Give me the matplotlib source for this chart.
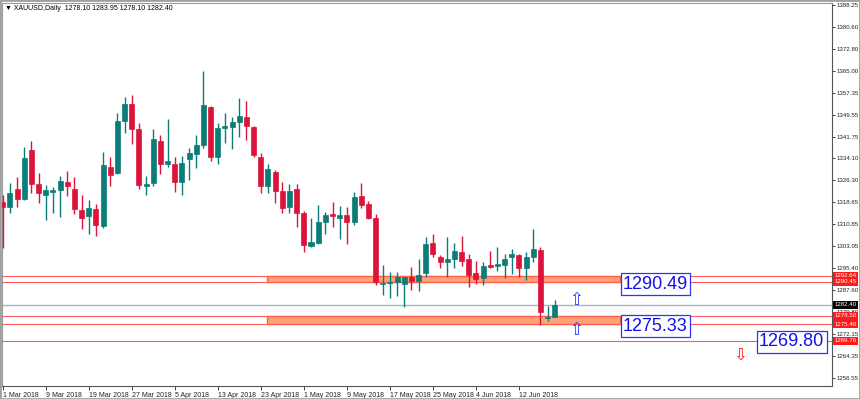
import matplotlib
matplotlib.use('Agg')
import matplotlib.pyplot as plt
import matplotlib.transforms as mtransforms
from matplotlib.patches import Rectangle

plt.rcParams['font.family'] = ['Liberation Sans', 'DejaVu Sans']

# daily XAUUSD candles, 1 Mar 2018 .. 19 Jun 2018
opens = [1318.80, 1317.03, 1323.28, 1319.75, 1337.05, 1325.05, 1321.27, 1322.33, 1323.04, 1325.65,
         1323.28, 1315.87, 1313.86, 1316.22, 1310.33, 1331.05, 1328.83, 1347.40, 1353.30, 1344.47,
         1324.45, 1325.51, 1340.23, 1332.11, 1332.11, 1325.65, 1333.77, 1335.75, 1338.82, 1352.34,
         1334.69, 1344.72, 1345.18, 1347.05, 1348.60, 1345.28, 1334.41, 1324.34, 1329.39, 1322.69,
         1316.82, 1323.18, 1314.70, 1303.26, 1304.11, 1311.74, 1314.46, 1313.04, 1314.00, 1311.74,
         1320.81, 1317.99, 1312.94, 1289.74, 1289.99, 1290.34, 1289.74, 1292.32, 1290.80, 1293.73,
         1304.11, 1299.38, 1297.40, 1298.57, 1301.14, 1298.57, 1293.52, 1291.96, 1296.34, 1296.20,
         1296.45, 1299.38, 1299.98, 1295.49, 1299.27, 1301.74, 1277.63, 1278.10]
highs = [1321.17, 1325.30, 1327.42, 1338.22, 1340.23, 1328.83, 1324.70, 1323.88, 1327.87, 1329.64,
         1327.63, 1321.17, 1319.40, 1317.99, 1336.45, 1334.69, 1350.01, 1355.77, 1356.48, 1346.48,
         1327.87, 1344.47, 1342.25, 1348.00, 1334.58, 1335.04, 1337.65, 1342.25, 1364.95, 1352.70,
         1346.69, 1350.01, 1348.81, 1355.31, 1354.36, 1345.64, 1336.00, 1332.11, 1329.99, 1325.86,
         1324.94, 1324.94, 1315.52, 1312.94, 1317.63, 1315.27, 1318.59, 1317.28, 1316.82, 1322.12,
         1325.30, 1319.15, 1314.35, 1296.45, 1293.87, 1294.08, 1292.32, 1295.85, 1298.46, 1306.23,
         1307.39, 1299.98, 1306.23, 1304.11, 1306.69, 1300.23, 1297.86, 1297.61, 1301.39, 1302.80,
         1300.23, 1302.10, 1300.23, 1301.14, 1309.16, 1302.70, 1281.97, 1283.95]
lows = [1302.45, 1314.92, 1317.03, 1319.40, 1321.77, 1318.45, 1312.34, 1314.70, 1313.29, 1320.92,
        1314.46, 1309.16, 1307.39, 1306.69, 1309.41, 1324.34, 1328.47, 1342.95, 1339.28, 1323.28,
        1321.17, 1324.45, 1328.58, 1331.16, 1322.33, 1321.17, 1326.46, 1330.59, 1337.87, 1333.28,
        1332.11, 1339.63, 1337.30, 1341.75, 1340.59, 1334.48, 1321.77, 1321.77, 1318.23, 1314.70,
        1314.70, 1309.76, 1301.14, 1302.91, 1304.00, 1307.39, 1309.76, 1305.52, 1303.76, 1310.57,
        1316.47, 1312.59, 1289.39, 1285.86, 1284.69, 1285.61, 1281.72, 1287.62, 1287.27, 1292.32,
        1299.38, 1295.28, 1292.11, 1295.28, 1296.20, 1288.79, 1289.63, 1289.39, 1295.28, 1294.44,
        1291.75, 1293.27, 1292.32, 1291.15, 1297.61, 1275.26, 1276.78, 1278.10]
closes = [1316.82, 1321.98, 1319.65, 1334.12, 1325.05, 1321.98, 1322.93, 1322.83, 1326.11, 1324.45,
          1316.12, 1313.15, 1316.68, 1310.68, 1331.65, 1328.33, 1347.29, 1353.30, 1344.36, 1324.70,
          1324.94, 1340.83, 1332.22, 1333.06, 1325.86, 1332.36, 1335.89, 1338.82, 1352.84, 1334.58,
          1344.72, 1345.42, 1346.94, 1348.95, 1345.42, 1335.29, 1324.45, 1330.45, 1322.58, 1316.47,
          1322.58, 1314.70, 1303.51, 1304.46, 1311.74, 1314.10, 1313.75, 1314.21, 1311.74, 1320.46,
          1317.63, 1312.94, 1290.34, 1290.20, 1290.55, 1292.32, 1292.32, 1290.80, 1292.92, 1303.86,
          1300.44, 1297.61, 1298.46, 1301.39, 1297.97, 1292.92, 1291.51, 1296.20, 1295.64, 1296.55,
          1298.46, 1300.23, 1295.28, 1299.27, 1302.10, 1279.75, 1278.19, 1282.40]

date_ticks = [0, 6, 12, 18, 24, 30, 36, 42, 48, 54, 60, 66, 72]
date_labels = ['1 Mar 2018', '9 Mar 2018', '19 Mar 2018', '27 Mar 2018', '5 Apr 2018',
               '13 Apr 2018', '23 Apr 2018', '1 May 2018', '9 May 2018', '17 May 2018',
               '25 May 2018', '4 Jun 2018', '12 Jun 2018']
price_ticks = [1388.25, 1380.60, 1372.80, 1365.00, 1357.35, 1349.55, 1341.75, 1334.10, 1326.30,
               1318.65, 1310.85, 1303.05, 1295.40, 1287.60, 1279.80, 1272.15, 1264.35, 1256.55]

# levels drawn on the chart
red_levels = [1292.64, 1290.45, 1278.50, 1275.48, 1269.76]
bid_level = 1282.40
zones = [(1290.45, 1292.64), (1275.48, 1278.50)]
zone_start, zone_end = 36.9, 86.1
notes = [('1290.49', 86.5, 1289.7), ('1275.33', 86.5, 1274.9), ('1269.80', 105.5, 1269.3)]

UP = '#0a7d78'
DOWN = '#dc143c'

fig = plt.figure(figsize=(8.6, 3.99), dpi=100)
ax = fig.add_axes([2 / 860, 1 - 386 / 399, 830 / 860, 383 / 399])
ax.set_xlim(-0.1, 115.67)
ax.set_ylim(1253.72, 1388.96)

for i in range(len(opens)):
    o, h, l, c = opens[i], highs[i], lows[i], closes[i]
    col = UP if c >= o else DOWN
    ax.vlines(i, l, h, color=col, lw=1, zorder=3)
    bottom = min(o, c)
    height = max(abs(c - o), 0.45)
    ax.bar(i, height, bottom=bottom, width=0.7, color=col, edgecolor=col, lw=0.5, zorder=4)

for lvl in red_levels:
    ax.axhline(lvl, color='#ff5a5a', lw=0.8, zorder=2)
ax.axhline(bid_level, color='#a9b4bd', lw=1, zorder=2)

for lo, hi in zones:
    ax.add_patch(Rectangle((zone_start, lo), zone_end - zone_start, hi - lo,
                           facecolor='#ffa07a', edgecolor='#ff6347', lw=1, zorder=2.5))

for txt, x, y in notes:
    ax.text(x, y, txt, fontsize=13, color='#1010ee', ha='left', va='center', zorder=6,
            bbox=dict(boxstyle='square,pad=0.12', facecolor='white', edgecolor='#3030ff', lw=0.9))

ax.text(80, 1284.1, '\u21e7', fontsize=12, color='#1a3cff', ha='center', va='center',
        family='DejaVu Sans', zorder=6)
ax.text(80, 1273.5, '\u21e7', fontsize=12, color='#1a3cff', ha='center', va='center',
        family='DejaVu Sans', zorder=6)
ax.text(102.8, 1264.7, '\u21e9', fontsize=12, color='#ff2020', ha='center', va='center',
        family='DejaVu Sans', zorder=6)

# axes look
for side in ['top', 'left']:
    ax.spines[side].set_color('#9a9a9a')
for side in ['right', 'bottom']:
    ax.spines[side].set_color('#555555')
    ax.spines[side].set_linewidth(0.8)

ax.yaxis.tick_right()
ax.set_yticks(price_ticks)
ax.set_yticklabels([f'{p:.2f}' for p in price_ticks])
ax.tick_params(axis='y', labelsize=4.4, length=2, width=0.6, pad=1.5, colors='#222222')
ax.set_xticks(date_ticks)
ax.set_xticklabels(date_labels)
ax.tick_params(axis='x', labelsize=5, length=3, width=0.6, pad=1.5, colors='#222222')
for lab in ax.get_xticklabels():
    lab.set_ha('left')

# price tags on the right scale
trans = mtransforms.blended_transform_factory(ax.transAxes, ax.transData)
for lvl in red_levels:
    ax.text(1.003, lvl, f'{lvl:.2f}', transform=trans, fontsize=4.4, color='white', ha='left',
            va='center', clip_on=False, zorder=7,
            bbox=dict(boxstyle='square,pad=0.25', facecolor='#ff1a1a', edgecolor='none'))
ax.text(1.003, bid_level, f'{bid_level:.2f}', transform=trans, fontsize=4.4, color='white',
        ha='left', va='center', clip_on=False, zorder=7,
        bbox=dict(boxstyle='square,pad=0.25', facecolor='black', edgecolor='none'))

fig.text(5 / 860, 1 - 8 / 399, '\u25bc XAUUSD,Daily  1278.10 1283.95 1278.10 1282.40',
         fontsize=5, color='black', va='center', ha='left')

fig.add_artist(Rectangle((0, 0), 1, 1, transform=fig.transFigure, fill=False,
                         edgecolor='#a0a0a0', lw=2))

fig.savefig('out.png', dpi=100)
